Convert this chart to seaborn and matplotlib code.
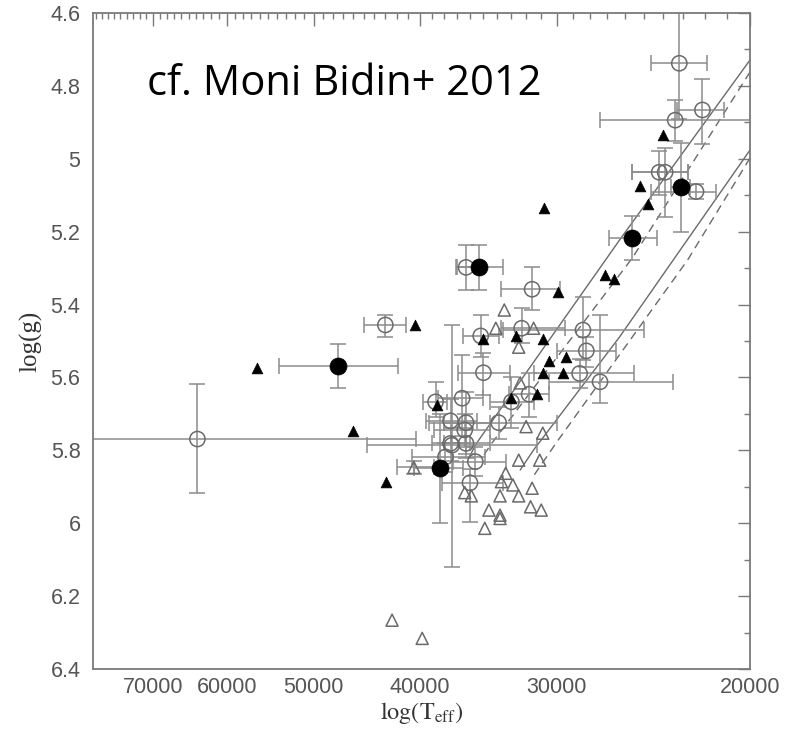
import numpy as np
import pandas as pd
import matplotlib
matplotlib.use("Agg")
import matplotlib.pyplot as plt
import seaborn as sns
from matplotlib.ticker import FixedLocator, FixedFormatter, NullFormatter

sns.set_theme(style="white")
plt.rcParams['font.family'] = ['Liberation Sans', 'DejaVu Sans']
plt.rcParams['mathtext.fontset'] = 'stix'

# ---------------- data ----------------
# open circles with error bars: Teff, logg, Teff range, logg range
oc_T    = [63800, 43000, 36300, 31600, 35200, 32300, 28400, 28200, 28600, 27400,
           35000, 38700, 36600, 37500, 36300, 36400, 33900, 33000, 31800, 37500,
           36300, 37900, 37400, 35600, 36000, 23200, 23400, 22100, 24200, 23900, 22400]
oc_g    = [5.769, 5.456, 5.298, 5.358, 5.486, 5.465, 5.470, 5.527, 5.589, 5.612,
           5.587, 5.667, 5.657, 5.719, 5.724, 5.744, 5.724, 5.667, 5.646, 5.781,
           5.781, 5.818, 5.786, 5.831, 5.889, 4.738, 4.894, 4.866, 5.037, 5.037, 5.090]
oc_Tmin = [40300, 41200, 35300, 29800, 33900, 29500, 25000, 26500, 25500, 23500,
           33100, 37800, 35000, 35500, 34500, 34500, 30000, 31500, 30500, 36000,
           34500, 34900, 31300, 33400, 33600, 21900, 19800, 21100, 22800, 22800, 21500]
oc_Tmax = [95000, 45000, 37100, 33700, 36500, 33700, 33600, 30000, 31500, 30500,
           36900, 39700, 38500, 39500, 38000, 38800, 39200, 34500, 33200, 39000,
           38000, 40700, 44700, 37300, 38200, 24600, 27400, 23300, 25600, 25600, 24600]
oc_gmin = [5.618, 5.429, 5.237, 5.297, 5.429, 5.410, 5.379, 5.490, 5.550, 5.430,
           5.533, 5.612, 5.539, 5.660, 5.640, 5.700, 5.680, 5.600, 5.588, 5.740,
           5.740, 5.780, 5.457, 5.790, 5.850, 4.550, 4.840, 4.780, 4.980, 4.970, 5.070]
oc_gmax = [5.918, 5.488, 5.360, 5.415, 5.544, 5.506, 5.552, 5.570, 5.630, 5.670,
           5.648, 5.708, 5.760, 5.780, 5.810, 5.790, 5.770, 5.740, 5.708, 5.830,
           5.820, 5.860, 6.120, 5.870, 5.997, 4.890, 4.950, 4.960, 5.100, 5.160, 5.110]

# filled circles with error bars
fc_T    = [47500, 35300, 38300, 25600, 23100]
fc_g    = [5.569, 5.298, 5.849, 5.218, 5.078]
fc_Tmin = [41900, 33600, 36500, 24300, 22700]
fc_Tmax = [53700, 37000, 40500, 26900, 23600]
fc_gmin = [5.508, 5.237, 5.700, 5.156, 4.958]
fc_gmax = [5.628, 5.360, 6.000, 5.278, 5.200]

# filled triangles
ft_T = [56300, 46000, 42900, 40400, 29900, 35000, 32700, 30900, 30500, 29400,
        30900, 29600, 38600, 33000, 31300, 27100, 26600, 24000, 25200, 24800, 30800]
ft_g = [5.575, 5.746, 5.886, 5.456, 5.365, 5.495, 5.486, 5.495, 5.554, 5.543,
        5.587, 5.587, 5.676, 5.657, 5.646, 5.320, 5.330, 4.935, 5.074, 5.124, 5.135]

# open triangles
ot_T = [33500, 34100, 31500, 32500, 32400, 32000, 30900, 40500, 32500, 31100,
        33400, 33700, 32900, 31600, 33800, 32500, 31700, 31000, 34600, 33800,
        33800, 34900, 36400, 35900, 42400, 39800]
ot_g = [5.415, 5.465, 5.465, 5.517, 5.615, 5.735, 5.753, 5.847, 5.827, 5.827,
        5.863, 5.886, 5.895, 5.904, 5.925, 5.925, 5.955, 5.964, 5.964, 5.978,
        5.987, 6.014, 5.916, 5.925, 6.266, 6.316]
# open triangle with error bar
otE_T, otE_g = [40500], [5.847]
otE_Tmin, otE_Tmax = [38800], [42000]
otE_gmin, otE_gmax = [5.83], [5.865]

# model sequences (solid and dashed)
lA_T = [20000, 26300, 35500, 36100]
lA_g = [4.729, 5.223, 5.780, 5.821]
lB_T = [20000, 25600, 34500, 35100]
lB_g = [4.762, 5.272, 5.786, 5.821]
lC_T = [20000, 23500, 26300, 31500, 32400]
lC_g = [4.976, 5.278, 5.489, 5.799, 5.854]
lD_T = [20000, 22800, 30000, 31600]
lD_g = [4.998, 5.278, 5.777, 5.876]

xtick_vals = [70000, 60000, 50000, 40000, 30000, 20000]
xtick_labels = ["70000", "60000", "50000", "40000", "30000", "20000"]
ytick_vals = [4.6, 4.8, 5.0, 5.2, 5.4, 5.6, 5.8, 6.0, 6.2, 6.4]
ytick_labels = ["4.6", "4.8", "5", "5.2", "5.4", "5.6", "5.8", "6", "6.2", "6.4"]

# ---------------- figure ----------------
fig = plt.figure(figsize=(7.92, 7.31), dpi=100)
ax = fig.add_axes([93/792, 1-669/731, (750-93)/792, (669-13)/731])

grey = '#7a7a7a'
ecol = '#8c8c8c'

def add_lines(T, g, ls):
    sns.lineplot(x=T, y=g, ax=ax, sort=False, estimator=None, color='#6a6a6a',
                 linewidth=1.0, linestyle=ls, zorder=1)

add_lines(lA_T, lA_g, '-')
add_lines(lB_T, lB_g, (0, (6, 4)))
add_lines(lC_T, lC_g, '-')
add_lines(lD_T, lD_g, (0, (6, 4)))

def add_err(T, g, Tmin, Tmax, gmin, gmax):
    T = np.array(T, float); g = np.array(g, float)
    xerr = [T - np.array(Tmin), np.array(Tmax) - T]
    yerr = [g - np.array(gmin), np.array(gmax) - g]
    ax.errorbar(T, g, xerr=xerr, yerr=yerr, fmt='none', ecolor=ecol,
                elinewidth=1.1, capsize=5.5, capthick=1.1, zorder=2)

add_err(oc_T, oc_g, oc_Tmin, oc_Tmax, oc_gmin, oc_gmax)
add_err(fc_T, fc_g, fc_Tmin, fc_Tmax, fc_gmin, fc_gmax)
add_err(otE_T, otE_g, otE_Tmin, otE_Tmax, otE_gmin, otE_gmax)

sns.scatterplot(x=oc_T, y=oc_g, ax=ax, marker='o', s=120, facecolor='none',
                edgecolor='#6a6a6a', linewidth=1.1, zorder=3)
sns.scatterplot(x=ot_T, y=ot_g, ax=ax, marker='^', s=75, facecolor='none',
                edgecolor='#6a6a6a', linewidth=1.1, zorder=3)
sns.scatterplot(x=ft_T, y=ft_g, ax=ax, marker='^', s=60, color='black',
                edgecolor='black', linewidth=0.5, zorder=4)
sns.scatterplot(x=fc_T, y=fc_g, ax=ax, marker='o', s=150, color='black',
                edgecolor='black', linewidth=0.5, zorder=4)

ax.set_xscale('log')
ax.set_xlim(10**4.9, 20000)
ax.set_ylim(6.4, 4.6)

ax.xaxis.set_major_locator(FixedLocator(xtick_vals))
ax.xaxis.set_major_formatter(FixedFormatter(xtick_labels))
minor_x = [t for t in range(21000, 80000, 1000) if t % 10000 != 0]
ax.xaxis.set_minor_locator(FixedLocator(minor_x))
ax.xaxis.set_minor_formatter(NullFormatter())

ax.yaxis.set_major_locator(FixedLocator(ytick_vals))
ax.yaxis.set_major_formatter(FixedFormatter(ytick_labels))
ax.yaxis.set_minor_locator(FixedLocator(list(np.arange(4.7, 6.4, 0.2))))

for sp in ax.spines.values():
    sp.set_color(grey)
    sp.set_linewidth(1.3)

ax.tick_params(which='both', direction='in', top=True, right=True,
               color=grey, width=1.0, labelcolor='#555555', labelsize=15.5)
ax.tick_params(which='major', length=9)
ax.tick_params(which='minor', length=4.5)
ax.tick_params(axis='x', which='major', pad=6)
ax.tick_params(axis='y', which='major', pad=9)

ax.set_xlabel(r'$\mathrm{log(T_{eff})}$', fontsize=17.5, color='#333333', labelpad=1)
ax.set_ylabel('log(g)', fontsize=18, color='#333333', family='Liberation Serif',
              labelpad=6)

fig.text(147/792, 1-95/731, 'cf. Moni Bidin+ 2012', fontsize=30,
         family='Open Sans', color='black', va='baseline', ha='left')

fig.savefig('out.png', dpi=100)
